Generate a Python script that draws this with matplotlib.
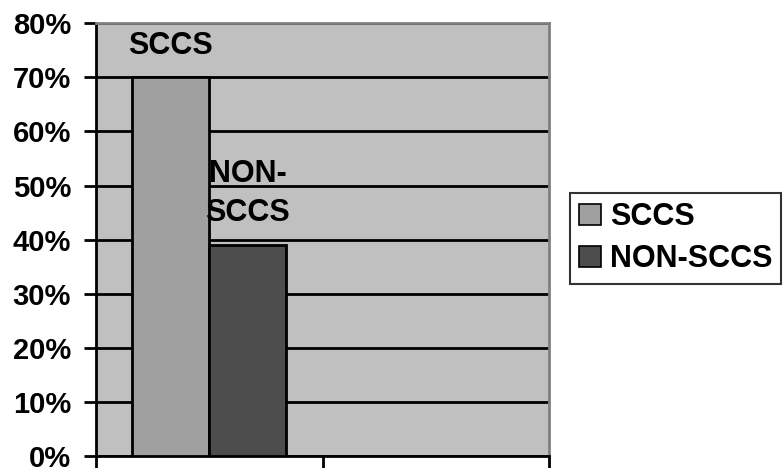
import matplotlib.pyplot as plt
from matplotlib.patches import Patch

series = ['SCCS', 'NON-SCCS']
bar_labels = ['SCCS', 'NON-\nSCCS']
values = [70, 39]
colors = ['#A0A0A0', '#4D4D4D']
yticks = [0, 10, 20, 30, 40, 50, 60, 70, 80]

plt.rcParams['font.family'] = ['Liberation Sans', 'DejaVu Sans']
plt.rcParams['font.weight'] = 'bold'

fig = plt.figure(figsize=(7.84, 4.68), dpi=100)
ax = fig.add_axes([0.1224, 0.0263, 0.578, 0.9237])
ax.set_facecolor('#C0C0C0')

width = 0.34
xs = [0.5 - width / 2, 0.5 + width / 2]
for x, v, c, lab in zip(xs, values, colors, bar_labels):
    ax.bar(x, v, width=width, color=c, edgecolor='black', linewidth=2, zorder=3)
    ax.annotate(lab, (x, v), xytext=(0, 12), textcoords='offset points',
                ha='center', va='bottom', fontsize=22, fontweight='bold',
                linespacing=1.4, zorder=4)

ax.set_xlim(0, 2)
ax.set_ylim(0, 80)
ax.set_yticks(yticks)
ax.set_yticklabels([f'{t}%' for t in yticks], fontsize=21, fontweight='bold')
ax.set_xticks([0, 1, 2])
ax.set_xticklabels([])
ax.tick_params(axis='both', direction='out', length=9, width=2, color='black')
ax.tick_params(axis='y', pad=9)
ax.yaxis.grid(True, color='black', linewidth=2, zorder=1)
ax.set_axisbelow(True)

ax.spines['left'].set_linewidth(2)
ax.spines['bottom'].set_linewidth(2)
ax.spines['top'].set_color('#808080')
ax.spines['right'].set_color('#808080')
ax.spines['top'].set_linewidth(2)
ax.spines['right'].set_linewidth(2)

handles = [Patch(facecolor=c, edgecolor='black', linewidth=1.2) for c in colors]
leg = fig.legend(handles, series, loc='upper left', bbox_to_anchor=(0.727, 0.5876),
                 fontsize=22, frameon=True, fancybox=False, handlelength=0.7,
                 handleheight=0.7, handletextpad=0.3, borderpad=0.3,
                 labelspacing=0.4, borderaxespad=0)
leg.get_frame().set_edgecolor('black')
leg.get_frame().set_linewidth(1.5)
for t in leg.get_texts():
    t.set_fontweight('bold')

fig.savefig('out.png', dpi=100)
